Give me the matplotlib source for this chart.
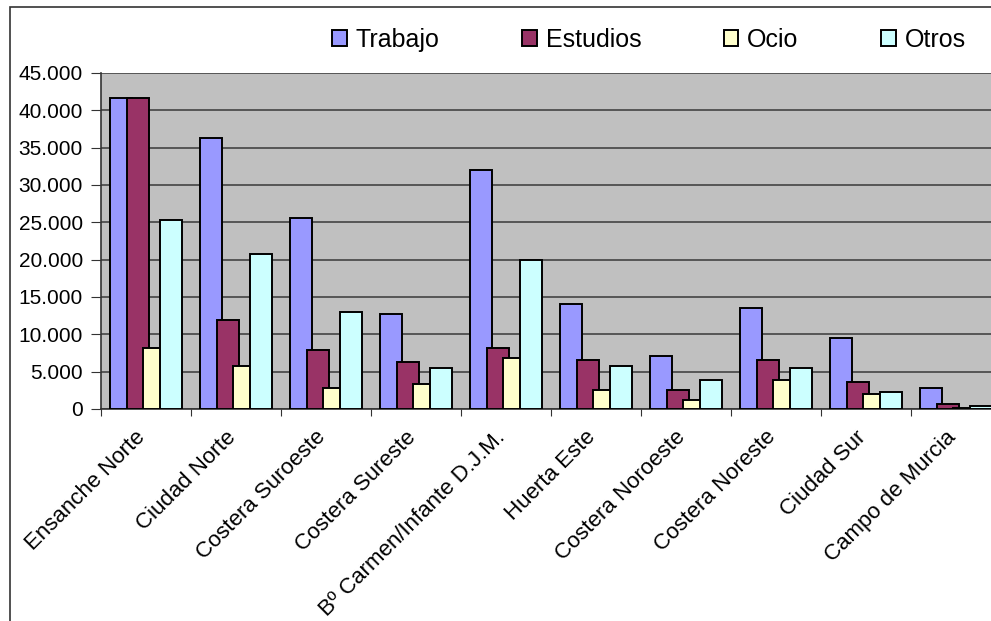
import numpy as np
import matplotlib
matplotlib.use("Agg")
import matplotlib.pyplot as plt
import matplotlib.transforms as mtransforms
from matplotlib.ticker import FuncFormatter, MultipleLocator
from matplotlib.patches import Rectangle

plt.rcParams['font.family'] = ['Liberation Sans', 'DejaVu Sans']

zonas = ['Ensanche Norte', 'Ciudad Norte', 'Costera Suroeste', 'Costera Sureste',
         'B\u00ba Carmen/Infante D.J.M.', 'Huerta Este', 'Costera Noroeste',
         'Costera Noreste', 'Ciudad Sur', 'Campo de Murcia']
trabajo = [41700, 36350, 25600, 12700, 32000, 14050, 7100, 13550, 9550, 2850]
estudios = [41700, 11950, 7950, 6300, 8200, 6550, 2600, 6600, 3650, 700]
ocio = [8200, 5800, 2850, 3350, 6850, 2550, 1250, 3900, 2000, 200]
otros = [25300, 20800, 13050, 5500, 19950, 5750, 3900, 5500, 2300, 400]

series = [('Trabajo', trabajo, '#9999FF'),
          ('Estudios', estudios, '#993366'),
          ('Ocio', ocio, '#FFFFCC'),
          ('Otros', otros, '#CCFFFF')]

W, H = 991, 621
fig = plt.figure(figsize=(W / 100, H / 100), dpi=100)

# chart area border (cropped at right and bottom)
fig.patches.append(Rectangle((10 / W, -0.1), 1.2, 1 - 7 / H + 0.1,
                             transform=fig.transFigure, fill=False,
                             edgecolor='#333333', linewidth=1.2))

ax = fig.add_axes([101 / W, 1 - 409 / H, 900 / W, 336 / H])
ax.set_facecolor('#C0C0C0')

x = np.arange(len(zonas)) + 0.5
step = 0.185
width = 0.244
handles = []
for i, (name, vals, col) in enumerate(series):
    b = ax.bar(x + (i - 1.5) * step, vals, width, color=col, edgecolor='black',
               linewidth=1.4, label=name, zorder=3 + i)
    handles.append(b)

ax.set_xlim(0, len(zonas))
ax.set_ylim(0, 45000)
ax.yaxis.set_major_locator(MultipleLocator(5000))
ax.yaxis.set_major_formatter(FuncFormatter(lambda v, p: f"{int(v):,}".replace(',', '.')))
ax.grid(axis='y', color='#4d4d4d', linewidth=1.3, zorder=1)
ax.set_axisbelow(True)

ax.set_xticks(np.arange(len(zonas) + 1))
ax.set_xticklabels([])
ax.set_xticks(x, minor=True)
ax.set_xticklabels(zonas, minor=True, rotation=45, ha='right', va='top',
                   rotation_mode='anchor', fontsize=16)
ax.tick_params(axis='x', which='minor', length=0, pad=7)
ax.tick_params(axis='x', which='major', length=5, color='#333333', direction='out')
ax.tick_params(axis='y', length=7, color='#333333', labelsize=15, pad=6)

# nudge category labels down-left like the original
offset = mtransforms.ScaledTranslation(-0.11, -0.08, fig.dpi_scale_trans)
for lab in ax.get_xticklabels(minor=True):
    lab.set_transform(lab.get_transform() + offset)

for s in ['top', 'right']:
    ax.spines[s].set_visible(False)
ax.spines['left'].set_color('#333333')
ax.spines['bottom'].set_color('#333333')
ax.spines['left'].set_linewidth(1.2)
ax.spines['bottom'].set_linewidth(1.2)

leg = fig.legend(handles=handles, labels=[s[0] for s in series], loc='center',
                 bbox_to_anchor=(649 / W, 1 - 40 / H), ncol=4, frameon=False,
                 fontsize=18, handlelength=0.58, handleheight=0.58,
                 handletextpad=0.36, columnspacing=3.3)

fig.savefig('out.png', dpi=100)
